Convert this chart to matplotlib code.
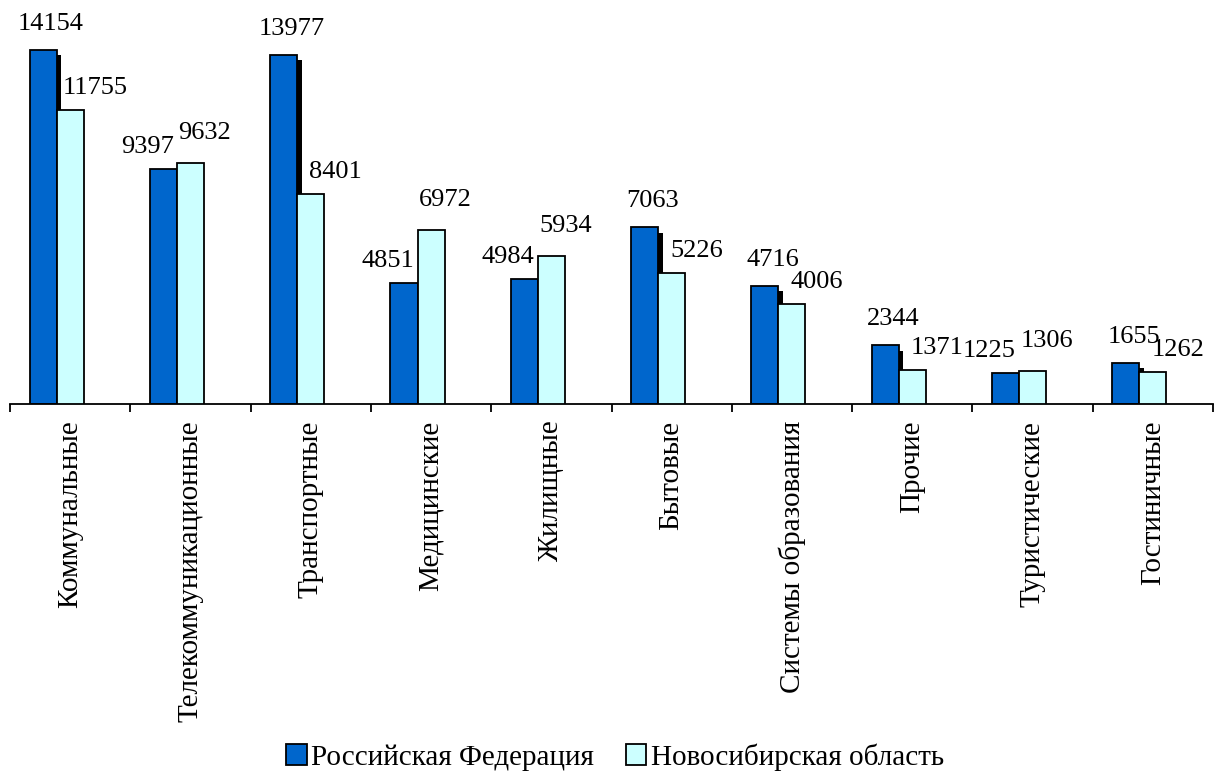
import numpy as np
import matplotlib.pyplot as plt
import matplotlib.patheffects as pe
from matplotlib.patches import Patch

# data ------------------------------------------------
categories = ['Коммунальные', 'Телекоммуникационные', 'Транспортные', 'Медицинские',
              'Жилищные', 'Бытовые', 'Системы образования', 'Прочие',
              'Туристические', 'Гостиничные']
rf = [14154, 9397, 13977, 4851, 4984, 7063, 4716, 2344, 1225, 1655]
nso = [11755, 9632, 8401, 6972, 5934, 5226, 4006, 1371, 1306, 1262]
series_names = ['Российская Федерация', 'Новосибирская область']
colors = ['#0066CC', '#CCFFFF']

plt.rcParams['font.family'] = ['Liberation Serif', 'DejaVu Serif']

fig = plt.figure(figsize=(12.18, 7.74), dpi=100)
ax = fig.add_axes([10/1218, 370/774, 1203/1218, 404/774])

x = np.arange(len(categories))
w = 0.225
# black drop shadow behind the dark bars
shadow = [pe.SimplePatchShadow(offset=(3.2, -3.8), shadow_rgbFace='black', alpha=1.0), pe.Normal()]

b1 = ax.bar(x - w, rf, w, color=colors[0], edgecolor='black', linewidth=1.3, zorder=2)
for p in b1:
    p.set_path_effects(shadow)
b2 = ax.bar(x, nso, w, color=colors[1], edgecolor='black', linewidth=1.3, zorder=3)

# value labels, nudged like the original (pixels -> points)
k = 72/100
for i in range(len(x)):
    dx1 = 8 if rf[i] > nso[i] else -16
    dy1 = 15 if rf[i] > nso[i] else 11
    dx2 = 25 if nso[i] < rf[i] else 14
    dy2 = 11 if nso[i] < rf[i] else 19
    ax.annotate(str(rf[i]), (x[i] - w, rf[i]), xytext=(dx1*k, dy1*k),
                textcoords='offset points', ha='center', va='bottom', fontsize=19)
    ax.annotate(str(nso[i]), (x[i], nso[i]), xytext=(dx2*k, dy2*k),
                textcoords='offset points', ha='center', va='bottom', fontsize=19)

ax.set_xlim(-0.5, len(categories) - 0.5)
ax.set_ylim(0, 16160)
for s in ['left', 'right', 'top']:
    ax.spines[s].set_visible(False)
ax.spines['bottom'].set_linewidth(1.3)
ax.set_yticks([])
ax.set_xticks(x)
ax.set_xticklabels(categories, rotation=90, fontsize=21)
ax.tick_params(axis='x', which='major', length=0, pad=12)
ax.set_xticks(np.arange(-0.5, len(categories), 1.0), minor=True)
ax.tick_params(axis='x', which='minor', length=6, width=1.3, direction='out')

handles = [Patch(facecolor=c, edgecolor='black', linewidth=1.3) for c in colors]
fig.legend(handles=handles, labels=series_names, loc='center', bbox_to_anchor=(0.505, 17/774),
           ncol=2, frameon=False, fontsize=21, handlelength=0.7, handleheight=0.7,
           handletextpad=0.15, columnspacing=1.1)

plt.savefig('out.png', dpi=100)
